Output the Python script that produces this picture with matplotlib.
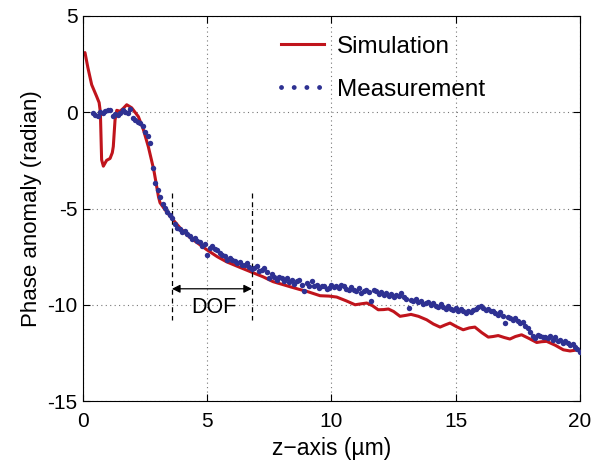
import matplotlib.pyplot as plt
import numpy as np
from matplotlib.lines import Line2D

plt.rcParams['font.family'] = ['Liberation Sans', 'DejaVu Sans']
plt.rcParams['axes.unicode_minus'] = False

# simulation curve (z in um, phase in rad)
z_sim = [0.0, 0.08, 0.2, 0.35, 0.55, 0.65, 0.7, 0.75, 0.82, 0.95, 1.09, 1.18, 1.22,
         1.29, 1.36, 1.49, 1.62, 1.76, 1.96, 2.23, 2.43, 2.63, 2.85, 3.04, 3.1, 3.3,
         3.57, 3.9, 4.3, 4.98, 5.4, 5.78, 6.3, 6.85, 7.25, 7.65, 8.3, 8.7, 9.0,
         9.54, 9.9, 10.21, 10.6, 10.95, 11.2, 11.42, 11.65, 11.88, 12.1, 12.29,
         12.5, 12.76, 13.0, 13.2, 13.5, 13.83, 14.1, 14.37, 14.57, 14.77, 15.05,
         15.3, 15.55, 15.77, 16.05, 16.31, 16.5, 16.71, 16.95, 17.18, 17.4, 17.65,
         17.95, 18.26, 18.45, 18.66, 19.0, 19.33, 19.6, 19.93, 20.0]
phase_sim = [3.0, 3.1, 2.3, 1.43, 0.82, 0.5, 0.0, -2.47, -2.8, -2.5, -2.4, -2.1, -1.78,
             -0.4, 0.1, 0.05, 0.2, 0.39, 0.23, -0.23, -0.9, -1.79, -3.0, -4.4, -4.7, -5.06,
             -5.5, -6.0, -6.5, -7.14, -7.5, -7.77, -8.05, -8.34, -8.55, -8.8, -9.05, -9.2, -9.3,
             -9.53, -9.55, -9.6, -9.8, -10.0, -9.95, -9.91, -10.05, -10.26, -10.25, -10.22,
             -10.35, -10.6, -10.55, -10.5, -10.6, -10.78, -11.0, -11.16, -11.05, -10.95, -11.15,
             -11.3, -11.2, -11.16, -11.45, -11.68, -11.65, -11.6, -11.7, -11.78, -11.65, -11.56,
             -11.75, -11.96, -11.92, -11.9, -12.1, -12.34, -12.4, -12.34, -12.4]

# measured phase, sampled every 0.1 um from 0.4 to 20.0
z_meas = np.round(np.linspace(0.4, 20.0, 197), 2)
phase_meas = [
    -0.05, -0.12, -0.2, 0.0, -0.05, 0.08, 0.1, 0.13, -0.18, -0.1,
    -0.13, -0.05, 0.1, 0.0, -0.05, 0.15, -0.3, -0.4, -0.5, -0.56,
    -0.7, -1.0, -1.25, -1.6, -2.9, -3.65, -4.05, -4.4, -4.75, -4.98,
    -5.2, -5.35, -5.5, -5.8, -6.0, -6.05, -6.2, -6.15, -6.3, -6.42,
    -6.6, -6.55, -6.7, -6.75, -6.97, -6.85, -7.4, -7.05, -6.97, -7.1,
    -7.18, -7.3, -7.4, -7.45, -7.66, -7.55, -7.7, -7.75, -7.85, -7.78,
    -7.92, -7.95, -7.83, -8.05, -8.15, -8.1, -8.0, -8.25, -8.2, -8.1,
    -8.3, -8.6, -8.4, -8.55, -8.7, -8.55, -8.62, -8.75, -8.6, -8.84,
    -8.7, -8.9, -8.75, -8.7, -8.95, -9.3, -8.85, -9.0, -8.79, -9.05,
    -8.95, -9.13, -9.0, -9.05, -9.2, -9.13, -8.95, -9.1, -9.0, -9.15,
    -8.96, -9.05, -9.2, -9.22, -9.1, -9.25, -9.3, -9.15, -9.39, -9.3,
    -9.25, -9.35, -9.83, -9.22, -9.3, -9.45, -9.35, -9.48, -9.4, -9.55,
    -9.45, -9.6, -9.48, -9.55, -9.39, -9.6, -9.7, -10.17, -9.75, -9.83,
    -9.7, -9.85, -9.8, -9.95, -9.91, -9.85, -10.0, -9.9, -10.05, -10.1,
    -9.95, -10.1, -10.2, -10.05, -10.2, -10.26, -10.15, -10.3, -10.2, -10.35,
    -10.43, -10.3, -10.4, -10.25, -10.2, -10.1, -10.05, -10.15, -10.25, -10.2,
    -10.35, -10.3, -10.45, -10.52, -10.4, -10.6, -10.95, -10.65, -10.7, -10.78,
    -10.7, -10.85, -10.95, -10.9, -11.1, -11.21, -11.4, -11.6, -11.73, -11.55,
    -11.6, -11.7, -11.65, -11.75, -11.6, -11.82, -11.7, -11.9, -11.85, -12.0,
    -11.9, -11.99, -12.1, -12.05, -12.17, -12.3, -12.43,
]

dof = [3.58, 6.8]

red = '#C0141C'
blue = '#2E3192'

fig = plt.figure(figsize=(5.94, 4.65), dpi=100)
ax = fig.add_axes([0.1397, 0.1376, 0.8367, 0.828])

ax.plot(z_sim, phase_sim, color=red, lw=2.2, zorder=2, solid_joinstyle='round')
ax.plot(z_meas, phase_meas, 'o', color=blue, ms=3.9, mew=0, zorder=3)

# depth of focus marker
for z in dof:
    ax.plot([z, z], [-4.18, -10.78], color='black', ls='--', lw=0.9, dashes=(4, 3))
ax.annotate('', xy=(dof[0], -9.17), xytext=(dof[1], -9.17),
            arrowprops=dict(arrowstyle='<|-|>', color='black', lw=0.9,
                            mutation_scale=12, shrinkA=0, shrinkB=0))
ax.text(5.25, -10.15, 'DOF', ha='center', va='center', fontsize=15.5)

ax.set_xlim(0, 20)
ax.set_ylim(-15, 5)
ax.set_xticks([0, 5, 10, 15, 20])
ax.set_yticks([-15, -10, -5, 0, 5])
ax.tick_params(direction='in', length=5, top=True, right=True, labelsize=15, pad=4)
ax.tick_params(axis='x', pad=8)
ax.grid(True, ls=(0, (1, 3)), color='#777777', lw=0.8)
ax.set_axisbelow(True)
ax.set_xlabel('z−axis (µm)', fontsize=16.5, labelpad=4)
ax.set_ylabel('Phase anomaly (radian)', fontsize=16, labelpad=4)

handles = [Line2D([], [], color=red, lw=2.2),
           Line2D([], [], color=blue, lw=3.5, ls=(0, (0.01, 2.6)), dash_capstyle='round')]
ax.legend(handles, ['Simulation', 'Measurement'], loc='upper left',
          bbox_to_anchor=(0.355, 1.005), frameon=False, fontsize=17.5,
          handlelength=1.75, handletextpad=0.55, labelspacing=0.85)

fig.savefig('out.png', dpi=100)
